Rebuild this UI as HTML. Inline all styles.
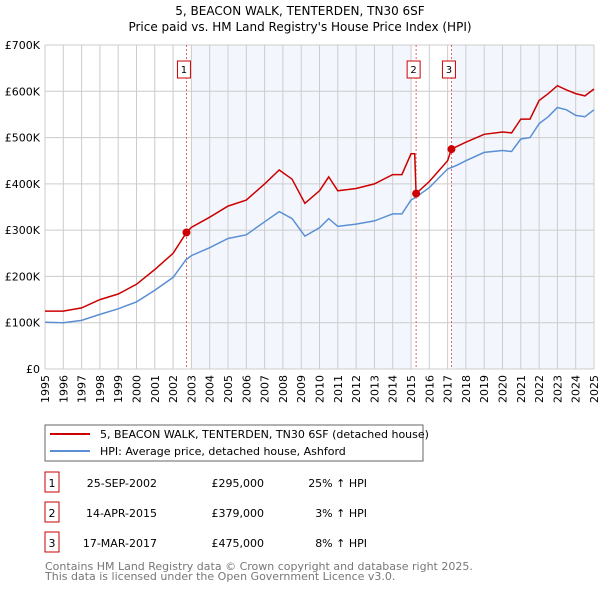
<!DOCTYPE html>
<html><head><meta charset="utf-8"><style>
body{margin:0;background:#fff;font-family:"DejaVu Sans","Liberation Sans",sans-serif;}
svg text{font-family:"DejaVu Sans","Liberation Sans",sans-serif;}
</style></head><body>
<svg id="c" width="600" height="590" xmlns="http://www.w3.org/2000/svg">
<text x="300" y="15" text-anchor="middle" font-size="12">5, BEACON WALK, TENTERDEN, TN30 6SF</text>
<text x="300" y="31" text-anchor="middle" font-size="12">Price paid vs. HM Land Registry's House Price Index (HPI)</text>
<g id="plot"></g>
<rect x="45" y="425" width="378" height="36" fill="#fff" stroke="#666"/>
<line x1="50" y1="434" x2="90" y2="434" stroke="#cc0000" stroke-width="2"/>
<text x="100" y="438" font-size="11">5, BEACON WALK, TENTERDEN, TN30 6SF (detached house)</text>
<line x1="50" y1="451" x2="90" y2="451" stroke="#5b8fd4" stroke-width="2"/>
<text x="100" y="455" font-size="11">HPI: Average price, detached house, Ashford</text>
<g id="table"></g>
<text x="45" y="570" font-size="11" fill="#777">Contains HM Land Registry data © Crown copyright and database right 2025.</text>
<text x="45" y="580" font-size="11" fill="#777">This data is licensed under the Open Government Licence v3.0.</text>
</svg>
<script>
const hpiDates=[1995,1996,1997,1998,1999,2000,2001,2002,2002.7,2003,2004,2005,2006,2007,2007.8,2008.5,2009.2,2010,2010.5,2011,2012,2013,2014,2014.5,2015,2015.3,2016,2017,2017.5,2018,2019,2020,2020.5,2021,2021.5,2022,2022.5,2023,2023.5,2024,2024.5,2025];
const hpiValues=[101,100,105,118,130,145,170,198,236,245,262,282,290,318,340,325,287,305,325,308,313,320,335,335,365,372,392,432,440,450,468,472,470,497,500,530,545,565,560,548,545,560];
const redDates=[1995,1996,1997,1998,1999,2000,2001,2002,2002.73,2003,2004,2005,2006,2007,2007.8,2008.5,2009.2,2010,2010.5,2011,2012,2013,2014,2014.5,2015,2015.2,2015.28,2016,2017,2017.21,2018,2019,2020,2020.5,2021,2021.5,2022,2022.5,2023,2023.5,2024,2024.5,2025];
const redValues=[125,125,132,150,162,183,215,250,295,306,328,352,365,400,430,410,358,385,415,385,390,400,420,420,465,465,379,405,450,475,490,507,512,510,540,540,580,595,612,603,595,590,605];
const saleDates=[2002.73,2015.28,2017.21];
const saleValues=[295,379,475];
const saleLabels=["1","2","3"];
const saleDateText=["25-SEP-2002","14-APR-2015","17-MAR-2017"];
const salePriceText=["£295,000","£379,000","£475,000"];
const saleHpiText=["25% ↑ HPI","3% ↑ HPI","8% ↑ HPI"];
const yTicks=[0,100,200,300,400,500,600,700];
const yTickLabels=["£0","£100K","£200K","£300K","£400K","£500K","£600K","£700K"];
const xTicks=[];for(let y=1995;y<=2025;y++)xTicks.push(y);

const L=45,R=594,T=45,B=369,NS="http://www.w3.org/2000/svg";
const xs=d=>L+(d-1995)/30*(R-L);
const ys=v=>B-v/700*(B-T);
const g=document.getElementById('plot');
function mk(t,a,p){const e=document.createElementNS(NS,t);for(const k in a)e.setAttribute(k,a[k]);(p||g).appendChild(e);return e;}
let r=mk('rect',{x:xs(2003),y:T,width:xs(2015.05)-xs(2003),height:B-T,fill:'#eef3fc',opacity:0.7});

r=mk('rect',{x:xs(saleDates[2]),y:T,width:R-xs(saleDates[2]),height:B-T,fill:'#eef3fc',opacity:0.7});

xTicks.forEach(y=>{const l=mk('line',{x1:xs(y),x2:xs(y),y1:T,y2:B,stroke:'#ccc'});

const t=mk('text',{x:0,y:0,'font-size':11,'text-anchor':'end',transform:`translate(${xs(y)+4},${B+6}) rotate(-90)`});t.textContent=y;
});
yTicks.forEach((v,i)=>{const l=mk('line',{x1:L,x2:R,y1:ys(v),y2:ys(v),stroke:'#ccc'});

const t=mk('text',{x:40,y:ys(v)+4,'font-size':11,'text-anchor':'end'});t.textContent=yTickLabels[i];
});
saleDates.forEach((d,i)=>{const l=mk('line',{x1:xs(d),x2:xs(d),y1:T,y2:B,stroke:'#e04040','stroke-dasharray':'2,2','stroke-width':0.8});

const b=mk('rect',{x:xs(d)-20+13-6,y:61,width:13,height:17,fill:'#fff',stroke:'#cc0000'});
b.setAttribute('x',xs(d)-9);

const t=mk('text',{x:xs(d)-2.5,y:73,'font-size':10,'text-anchor':'middle'});t.textContent=saleLabels[i];
});
const pth=(ds,vs)=>ds.map((d,i)=>(i?'L':'M')+xs(d).toFixed(1)+','+ys(vs[i]).toFixed(1)).join('');
let p=mk('path',{d:pth(hpiDates,hpiValues),fill:'none',stroke:'#5b8fd4','stroke-width':1.5});

p=mk('path',{d:pth(redDates,redValues),fill:'none',stroke:'#cc0000','stroke-width':1.5});

saleDates.forEach((d,i)=>{const c=mk('circle',{cx:xs(d),cy:ys(saleValues[i]),r:4,fill:'#cc0000'});
});
const tb=document.getElementById('table');
saleLabels.forEach((s,i)=>{const y=483+i*30;
const b=mk('rect',{x:45,y:y-11,width:14,height:20,fill:'#fff',stroke:'#cc0000'},tb);

const vals=[[52,s,'middle'],[157,saleDateText[i],'end'],[264,salePriceText[i],'end'],[367,saleHpiText[i],'end']];
vals.forEach(v=>{const t=mk('text',{x:v[0],y:y+4,'font-size':11,'text-anchor':v[2]},tb);t.textContent=v[1];
});});
</script>
</body></html>
